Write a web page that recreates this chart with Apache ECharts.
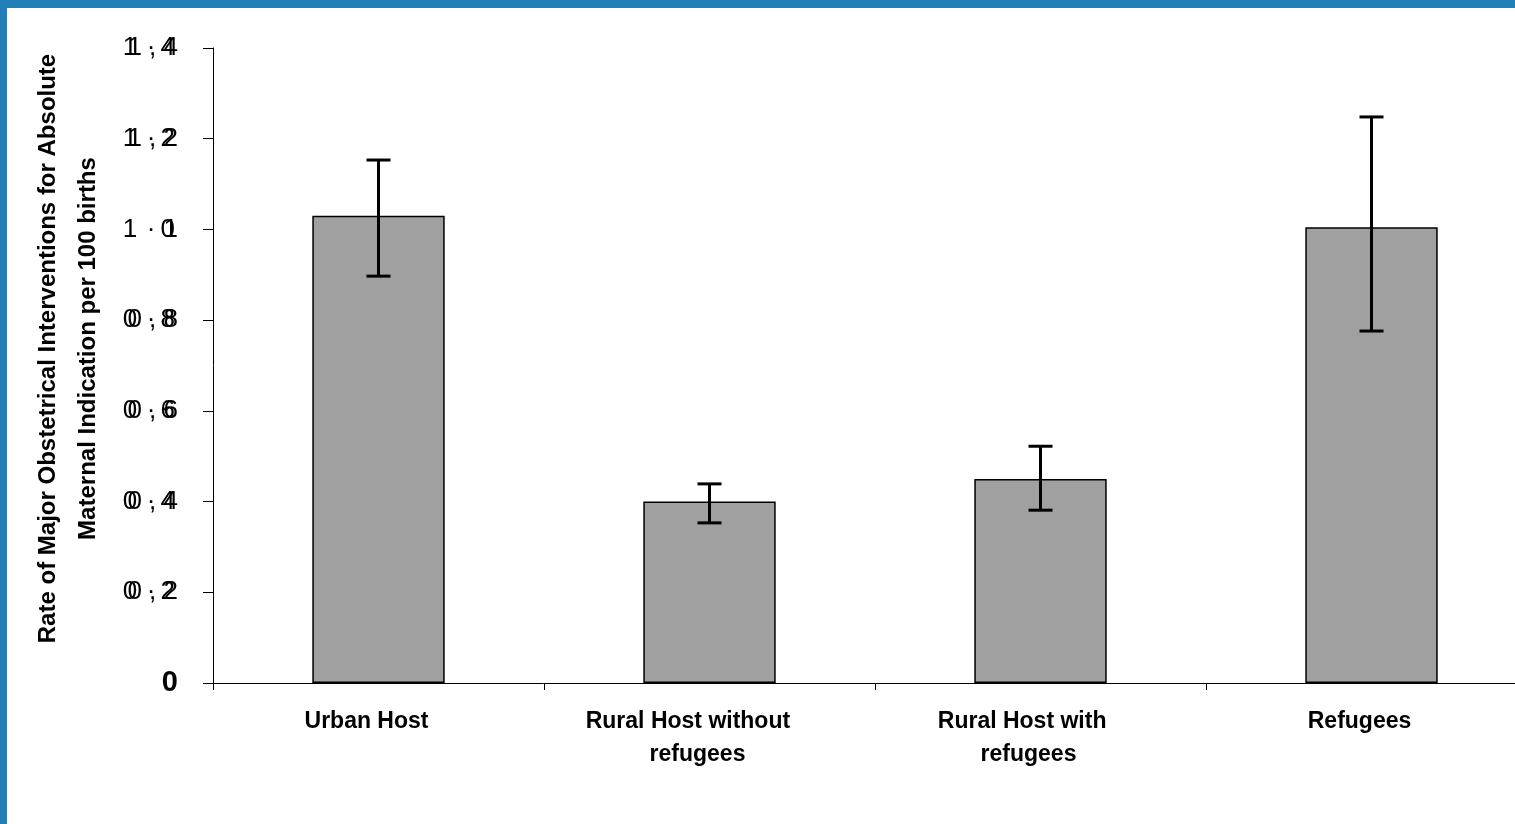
<!DOCTYPE html>
<html>
<head>
<meta charset="utf-8">
<script src="https://cdn.jsdelivr.net/npm/echarts@6/dist/echarts.min.js"></script>
<style>
html,body{margin:0;padding:0;background:#fff;width:1515px;height:824px;overflow:hidden;}
#chart{position:absolute;left:0;top:0;width:1545px;height:824px;}
#bt{position:absolute;left:0;top:0;width:1515px;height:8px;background:#1f7fb6;}
#bl{position:absolute;left:0;top:0;width:7px;height:824px;background:#1f7fb6;}
</style>
</head>
<body>
<div id="chart"></div>
<div id="bt"></div>
<div id="bl"></div>
<script>
const categories = ['Urban Host', 'Rural Host without   \nrefugees', 'Rural Host with  \nrefugees', 'Refugees'];
const values = [1.03, 0.40, 0.45, 1.005];
const errLow = [0.897, 0.353, 0.381, 0.776];
const errHigh = [1.153, 0.439, 0.522, 1.248];
const yTicksComma = ['0', '0 , 2', '0 , 4', '0 , 6', '0 , 8', '1', '1 , 2', '1 , 4'];
const yTicksDot = ['', '0\u200A ·\u20092', '0\u200A ·\u20094', '0\u200A ·\u20096', '0\u200A ·\u20098', '1\u200A ·\u20090', '1\u200A ·\u20092', '1\u200A ·\u20094'];
const yTitle = 'Rate of Major Obstetrical Interventions for Absolute\nMaternal Indication per 100 births';

const chart = echarts.init(document.getElementById('chart'), null, {renderer: 'canvas'});
const font = 'Liberation Sans, Arial, sans-serif';
function idx(v){ return Math.round(v / 0.2); }

const option = {
  animation: false,
  grid: {left: 213, right: 8, top: 48, bottom: 141, containLabel: false},
  xAxis: {
    type: 'category',
    data: categories,
    axisLine: {lineStyle: {color: '#000', width: 1}},
    axisTick: {show: true, length: 7, lineStyle: {color: '#000'}},
    axisLabel: {
      color: '#000', fontFamily: font, fontWeight: 'bold', fontSize: 23,
      lineHeight: 33, margin: 22, padding: [0, 24, 0, 0], interval: 0
    }
  },
  yAxis: [{
    type: 'value', min: 0, max: 1.4, interval: 0.2,
    name: yTitle, nameLocation: 'middle', nameGap: 105, nameRotate: 90,
    nameTextStyle: {color: '#000', fontFamily: font, fontWeight: 'bold', fontSize: 24, lineHeight: 40, padding: [0, 0, 0, 34]},
    axisLine: {show: true, lineStyle: {color: '#000', width: 1}},
    axisTick: {show: true, length: 10, lineStyle: {color: '#000'}},
    splitLine: {show: false},
    axisLabel: {
      color: '#000', fontFamily: font, fontSize: 26, margin: 35,
      formatter: function(v){ const s = yTicksComma[idx(v)]; return idx(v) === 0 ? '{b|' + s + '}' : s; },
      rich: {b: {fontWeight: 'bold', fontSize: 29, fontFamily: font, color: '#000'}}
    }
  }, {
    type: 'value', min: 0, max: 1.4, interval: 0.2, position: 'left',
    axisLine: {show: false}, axisTick: {show: false}, splitLine: {show: false},
    axisLabel: {
      color: '#000', fontFamily: font, fontSize: 26, margin: 38,
      formatter: function(v){ return yTicksDot[idx(v)]; }
    }
  }],
  series: [{
    type: 'bar',
    data: values,
    barWidth: '40%',
    itemStyle: {color: '#a0a0a0', borderColor: '#000', borderWidth: 1.5}
  }, {
    type: 'custom',
    data: categories.map((c, i) => [i, errLow[i], errHigh[i]]),
    renderItem: function(params, api){
      const lo = api.coord([api.value(0), api.value(1)]);
      const hi = api.coord([api.value(0), api.value(2)]);
      const w = 12;
      const st = {stroke: '#000', lineWidth: 3};
      return {type: 'group', children: [
        {type: 'line', shape: {x1: lo[0], y1: lo[1], x2: hi[0], y2: hi[1]}, style: st},
        {type: 'line', shape: {x1: hi[0]-w, y1: hi[1], x2: hi[0]+w, y2: hi[1]}, style: st},
        {type: 'line', shape: {x1: lo[0]-w, y1: lo[1], x2: lo[0]+w, y2: lo[1]}, style: st}
      ]};
    },
    z: 10
  }]
};
chart.setOption(option);
</script>
</body>
</html>
